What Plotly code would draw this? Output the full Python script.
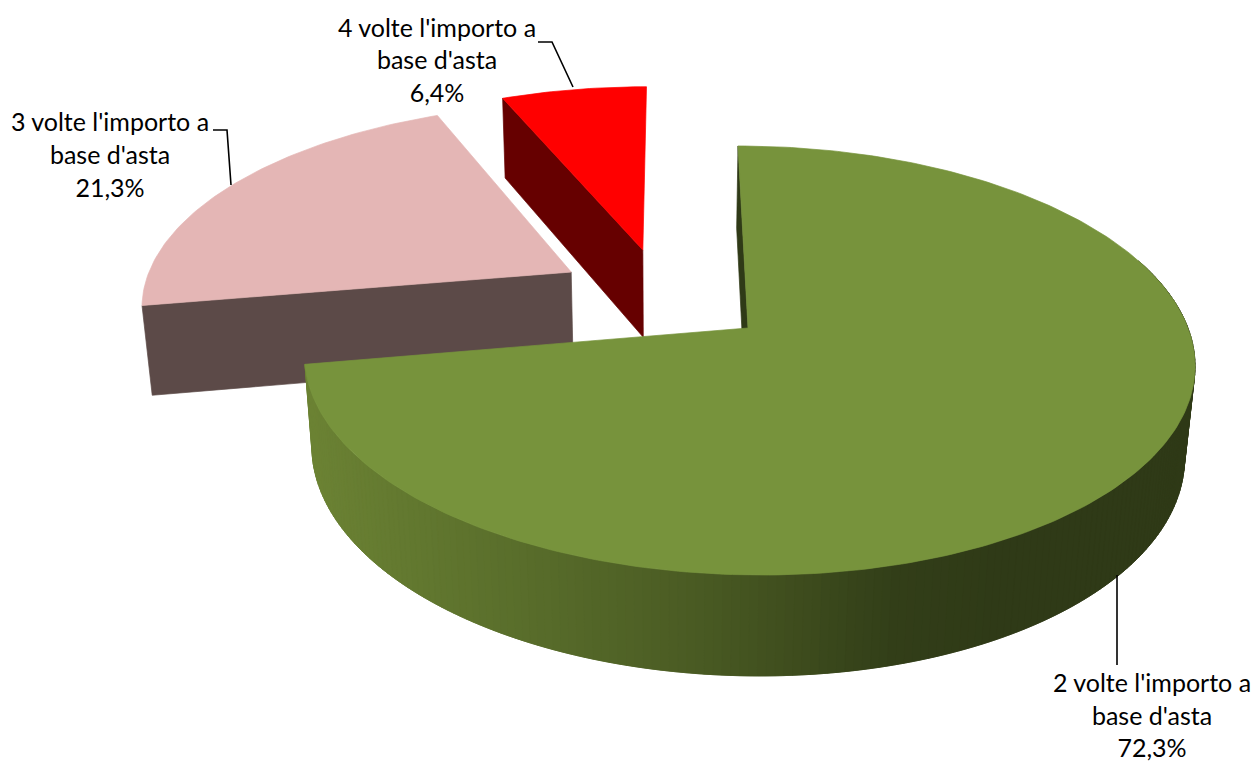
import math
import plotly.graph_objects as go

# Chart data
categories = ["2 volte l'importo a", "3 volte l'importo a", "4 volte l'importo a"]
category_tail = ["base d'asta", "base d'asta", "base d'asta"]
shares = [72.3, 21.3, 6.4]

# Slice styling
top_colors = ["#77933C", "#E4B6B5", "#FF0000"]
wall_colors = ["#2F3A17", "#5C4A48", "#660000"]
explode_x = [0.0, -0.4115, -0.243]
explode_y = [0.0, 0.278, 0.394]

# Shading of the green rim, by screen x
rim_stops_x = [305, 500, 700, 900, 1000, 1254]
rim_stops_rgb = [(108, 131, 52), (91, 112, 44), (74, 91, 35), (50, 62, 24), (47, 58, 23), (47, 58, 23)]

# Projection of the tilted disc onto the page
CX, CY, RX, RY = 748.0, 328.0, 440.0, 209.6
K, M, DEPTH, SHEAR, DEPTH_SHIFT = 0.1515, 0.02, 92.6, -11.5, -1.5
START_DEG = 0.0

# Label placement
label_x = [1152, 110, 437]
label_y = [(686, 719, 751), (125, 158, 191), (31, 63, 96)]
leader_x = [[1117, 1117], [231, 227, 213], [573, 552, 538]]
leader_y = [[575, 665], [185, 130, 130], [87, 42, 42]]


def project(wx, wy, z):
    w = 1 + K * wy + M * z
    return CX + (RX * wx + SHEAR * wy) / w + DEPTH_SHIFT * z, CY + (-RY * wy + DEPTH * z) / w


def rim(i, deg, z=0):
    a = math.radians(deg)
    return project(explode_x[i] + math.sin(a), explode_y[i] + math.cos(a), z)


def apex(i, z=0):
    return project(explode_x[i], explode_y[i], z)


def polygon(points, color):
    return go.Scatter(
        x=[p[0] for p in points] + [points[0][0]],
        y=[p[1] for p in points] + [points[0][1]],
        mode="lines", fill="toself", fillcolor=color,
        line=dict(color=color, width=0.7), hoverinfo="skip", showlegend=False,
    )


def top_face(i, a0, a1, color):
    n = max(8, int((a1 - a0) / 1.0))
    arc = [rim(i, a0 + (a1 - a0) * t / n) for t in range(n + 1)]
    return polygon([apex(i)] + arc, color)


def cut_face(i, deg, color):
    return polygon([rim(i, deg), apex(i), apex(i, 1), rim(i, deg, 1)], color)


def rim_color(x):
    for j in range(len(rim_stops_x) - 1):
        if x <= rim_stops_x[j + 1]:
            t = max(0.0, (x - rim_stops_x[j]) / (rim_stops_x[j + 1] - rim_stops_x[j]))
            c0, c1 = rim_stops_rgb[j], rim_stops_rgb[j + 1]
            return "rgb(%d,%d,%d)" % tuple(round(c0[k] + (c1[k] - c0[k]) * t) for k in range(3))
    return "rgb(%d,%d,%d)" % rim_stops_rgb[-1]


# Angular extent of each slice, clockwise from the top
bounds = []
acc = START_DEG
for s in shares:
    bounds.append((acc, acc + s * 3.6))
    acc += s * 3.6

fig = go.Figure()

# Exploded slices sit behind the large one
for i in (1, 2):
    a0, a1 = bounds[i]
    fig.add_trace(cut_face(i, a0, wall_colors[i]))
    fig.add_trace(top_face(i, a0, a1, top_colors[i]))

# Large slice: inner wall, shaded rim, then the top.
# Rim pieces overlap their neighbour so no seams show between them.
a0, a1 = bounds[0]
fig.add_trace(cut_face(0, a0, wall_colors[0]))
step = 1.0
deg = a1 - step
while deg > 70.0:
    d1 = deg + 2 * step if deg + 2 * step < a1 else a1
    quad = [rim(0, deg), rim(0, d1), rim(0, d1, 1), rim(0, deg, 1)]
    fig.add_trace(polygon(quad, rim_color(sum(p[0] for p in quad) / 4)))
    deg -= step
fig.add_trace(top_face(0, a0, a1, top_colors[0]))

# Leader lines
for lx, ly in zip(leader_x, leader_y):
    fig.add_trace(go.Scatter(x=lx, y=ly, mode="lines", line=dict(color="#000000", width=1.6),
                             hoverinfo="skip", showlegend=False))

# Three-line labels: category, remainder, share
for i in range(3):
    lines = [categories[i], category_tail[i], f"{shares[i]:.1f}".replace(".", ",") + "%"]
    fig.add_trace(go.Scatter(
        x=[label_x[i]] * 3, y=list(label_y[i]), mode="text", text=lines,
        textposition="middle center", textfont=dict(family="Lato", size=25, color="#000000"),
        hoverinfo="skip", showlegend=False, cliponaxis=False,
    ))

fig.update_layout(
    width=1254, height=761, autosize=False,
    margin=dict(l=0, r=0, t=0, b=0),
    paper_bgcolor="#FFFFFF", plot_bgcolor="#FFFFFF",
    xaxis=dict(range=[0, 1254], visible=False, fixedrange=True),
    yaxis=dict(range=[761, 0], visible=False, fixedrange=True),
    hovermode=False, showlegend=False,
)
fig.write_html("out.html", config={"displayModeBar": False})
